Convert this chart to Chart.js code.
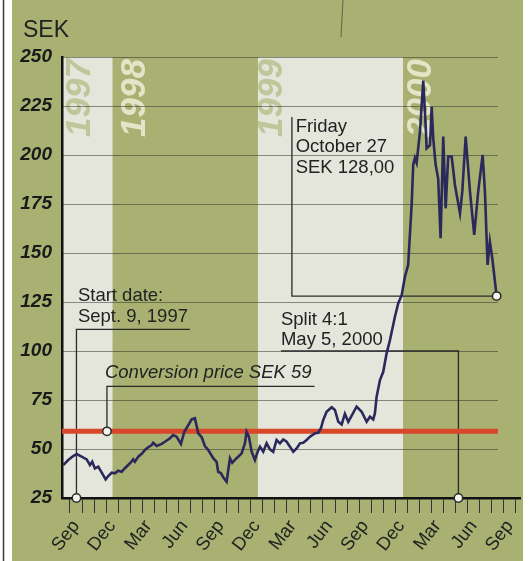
<!DOCTYPE html>
<html lang="en">
<head>
  <meta charset="UTF-8">
  <title>Share price SEK 1997-2000</title>
  <script src="https://cdn.jsdelivr.net/npm/chart.js"></script>
  <style>
    html, body { margin: 0; padding: 0; background: #fff; }
    canvas { display: block; }
  </style>
</head>
<body>
  <canvas id="grafico" width="531" height="561"></canvas>

  <script>
    // x is counted in months from the Sep 1997 tick of the axis
    const xTickLabels = ['Sep','','','Dec','','','Mar','','','Jun','','',
                         'Sep','','','Dec','','','Mar','','','Jun','','',
                         'Sep','','','Dec','','','Mar','','','Jun','','',
                         'Sep',''];
    const monthTicks = xTickLabels.map((_, i) => i);
    const yTicks = [25, 50, 75, 100, 125, 150, 175, 200, 225, 250];

    const years = ['1997', '1998', '1999', '2000'];
    const yearStarts = [-0.66, 3.55, 15.6, 27.65];
    const yearLabelAt = [0.83, 5.39, 16.76, 29.2];

    const priceMonths = [
      -0.56, -0.14, 0.27, 0.56, 0.97, 1.39, 1.66, 1.85, 2.07, 2.35, 2.76, 2.96, 3.18, 3.46, 3.73,
      4.01, 4.29, 4.56, 4.98, 5.25, 5.39, 5.67, 6.00, 6.22, 6.50, 6.78, 6.91, 7.20, 7.61, 7.88,
      8.30, 8.57, 8.85, 9.21, 9.49, 9.82, 10.10, 10.37, 10.65, 10.93, 11.20, 11.48, 11.89, 12.17,
      12.30, 12.53, 12.72, 13.00, 13.14, 13.28, 13.47, 13.83, 14.25, 14.52, 14.66, 14.85, 15.08,
      15.35, 15.58, 15.77, 16.04, 16.32, 16.60, 16.87, 17.15, 17.43, 17.70, 17.98, 18.26, 18.53,
      18.81, 19.09, 19.36, 19.64, 19.92, 20.33, 20.61, 20.83, 21.02, 21.30, 21.72, 21.99, 22.27,
      22.55, 22.82, 23.10, 23.79, 24.21, 24.62, 24.90, 25.17, 25.31, 25.45, 25.73, 26.00, 26.28,
      26.56, 26.97, 27.24, 27.53, 27.80, 28.07, 28.36, 28.49, 28.63, 28.77, 29.05, 29.32, 29.52,
      29.60, 29.88, 30.02, 30.15, 30.35, 30.56, 30.76, 30.98, 31.18, 31.39, 31.68, 31.95, 32.37,
      32.56, 32.84, 33.20, 33.55, 33.88, 34.25, 34.44, 34.66, 34.85, 35.05, 35.41
    ];
    const priceValues = [
      41.8, 44.4, 46.4, 47.4, 46.1, 44.7, 41.8, 43.5, 40.1, 41.0, 36.7, 34.5, 36.2, 37.9, 37.6,
      38.9, 38.4, 40.2, 42.7, 44.7, 43.5, 46.1, 47.8, 49.5, 50.9, 52.0, 53.2, 51.5, 52.6, 53.7,
      55.5, 57.1, 56.3, 52.6, 58.8, 62.2, 65.1, 65.7, 58.0, 56.0, 51.5, 49.5, 45.3, 43.5,
      38.4, 37.6, 35.6, 33.3, 39.3, 45.3, 43.0, 45.3, 47.8, 52.9, 58.8, 56.3, 48.6,
      44.4, 48.6, 51.2, 48.6, 52.9, 49.8, 48.6, 54.6, 52.9, 54.9, 53.7, 51.2, 48.6,
      50.3, 52.9, 53.2, 54.6, 56.3, 58.0, 58.3, 60.6, 64.8, 69.0, 71.3, 69.9, 63.9,
      62.5, 68.0, 63.9, 71.6, 69.0, 63.9, 66.5, 65.1, 68.2, 76.7, 85.2, 89.4, 98.8,
      105.6, 117.5, 124.3, 128.5, 137.9, 144, 175, 195, 198.5, 196, 212, 238, 215,
      203.4, 205, 224.6, 208.5, 195, 188, 157.5, 209.4, 172.8, 199.2, 199.2, 184.7, 170.3,
      181.3, 209.4, 181.3, 159.2, 181.3, 200, 181.3, 143.9, 155.8, 147.3, 128
    ];

    const conversionPrice = 59;
    const gridEnd = 35.52;

    // callouts: dot -> corner -> end, text starts at textAt (first baseline)
    const callouts = [
      { lines: ['Start date:', 'Sept. 9, 1997'], dot: [0.54, 25], corner: [0.54, 111], end: [9.96, 111], textAt: [0.66, 125.5] },
      { lines: ['Conversion price SEK 59'], italic: true, dot: [3.07, 59], corner: [3.07, 82], end: [20.3, 82], textAt: [2.9, 86.2] },
      { lines: ['Split 4:1', 'May 5, 2000'], dot: [32.24, 25], corner: [32.24, 100], end: [17.51, 100], textAt: [17.51, 113.3] },
      { lines: ['Friday', 'October 27', 'SEK 128,00'], dot: [35.41, 128], corner: [18.42, 128], end: [18.42, 219.4], textAt: [18.73, 211.9] }
    ];

    const verde = '#a8b171';
    const claro = '#e4e6dc';
    const tinta = '#222';

    const fundo = {
      id: 'fundo',
      beforeDraw(chart) {
        const { ctx, chartArea: a, scales: { x, y } } = chart;
        ctx.save();
        ctx.fillStyle = '#fff';
        ctx.fillRect(0, 0, chart.width, chart.height);
        ctx.fillStyle = verde;
        ctx.fillRect(12, 0, 511, chart.height);
        ctx.strokeStyle = '#3a3a3a';
        ctx.lineWidth = 1.5;
        ctx.beginPath(); ctx.moveTo(3.5, 0); ctx.lineTo(3.5, chart.height); ctx.stroke();
        ctx.strokeStyle = 'rgba(50,50,40,0.6)';
        ctx.lineWidth = 1;
        ctx.beginPath(); ctx.moveTo(343, 0); ctx.lineTo(341, 37); ctx.stroke();

        // year bands
        years.forEach((yr, i) => {
          const x0 = x.getPixelForValue(yearStarts[i]);
          const x1 = i + 1 < years.length ? x.getPixelForValue(yearStarts[i + 1]) : a.right;
          ctx.fillStyle = i % 2 === 0 ? claro : verde;
          ctx.fillRect(x0, a.top, x1 - x0, a.bottom - a.top);
        });
        years.forEach((yr, i) => {
          ctx.save();
          ctx.translate(x.getPixelForValue(yearLabelAt[i]), a.top + 80);
          ctx.rotate(-Math.PI / 2);
          ctx.font = 'italic bold 35px "Liberation Sans"';
          ctx.textAlign = 'left';
          ctx.textBaseline = 'middle';
          ctx.fillStyle = i % 2 === 0 ? 'rgba(160,172,100,0.55)' : 'rgba(236,238,214,0.85)';
          ctx.fillText(yr, 0, 0);
          ctx.restore();
        });

        // grid lines
        ctx.strokeStyle = 'rgba(55,55,45,0.55)';
        ctx.lineWidth = 1;
        const xe = x.getPixelForValue(gridEnd);
        yTicks.slice(1).forEach(v => {
          const py = Math.round(y.getPixelForValue(v)) + 0.5;
          ctx.beginPath(); ctx.moveTo(a.left, py); ctx.lineTo(xe, py); ctx.stroke();
        });

        ctx.fillStyle = tinta;
        ctx.font = '23px "Liberation Sans"';
        ctx.textAlign = 'left';
        ctx.textBaseline = 'alphabetic';
        ctx.fillText('SEK', 23, 37);
        ctx.restore();
      },
      beforeDatasetsDraw(chart) {
        const { ctx, scales: { x, y } } = chart;
        ctx.save();
        ctx.strokeStyle = '#2a2a2a';
        ctx.lineWidth = 1.3;
        callouts.forEach(c => {
          ctx.beginPath();
          ctx.moveTo(x.getPixelForValue(c.dot[0]), y.getPixelForValue(c.dot[1]));
          ctx.lineTo(x.getPixelForValue(c.corner[0]), y.getPixelForValue(c.corner[1]));
          ctx.lineTo(x.getPixelForValue(c.end[0]), y.getPixelForValue(c.end[1]));
          ctx.stroke();
          ctx.fillStyle = tinta;
          ctx.font = (c.italic ? 'italic ' : '') + '18.5px "Liberation Sans"';
          ctx.textAlign = 'left';
          ctx.textBaseline = 'alphabetic';
          const tx = x.getPixelForValue(c.textAt[0]);
          const ty = y.getPixelForValue(c.textAt[1]);
          c.lines.forEach((t, i) => ctx.fillText(t, tx, ty + i * 20.5));
        });
        ctx.restore();
      },
      afterDatasetsDraw(chart) {
        const { ctx, scales: { x, y } } = chart;
        ctx.save();
        ctx.fillStyle = '#f5f5ee';
        ctx.strokeStyle = '#2a2a2a';
        ctx.lineWidth = 1.5;
        callouts.forEach(c => {
          ctx.beginPath();
          ctx.arc(x.getPixelForValue(c.dot[0]), y.getPixelForValue(c.dot[1]), 4.2, 0, Math.PI * 2);
          ctx.fill();
          ctx.stroke();
        });
        ctx.restore();
      }
    };

    new Chart(document.getElementById('grafico').getContext('2d'), {
      type: 'line',
      data: {
        datasets: [
          {
            label: 'SEK',
            data: priceMonths.map((m, i) => ({ x: m, y: priceValues[i] })),
            borderColor: '#2b285c',
            borderWidth: 2.6,
            pointRadius: 0,
            tension: 0
          },
          {
            label: 'Conversion price',
            data: [{ x: -0.66, y: conversionPrice }, { x: gridEnd, y: conversionPrice }],
            borderColor: '#d8472a',
            borderWidth: 5,
            pointRadius: 0
          }
        ]
      },
      options: {
        responsive: false,
        animation: false,
        devicePixelRatio: 1,
        layout: { padding: { top: 57, right: 11, bottom: 0, left: 0 } },
        plugins: { legend: { display: false }, tooltip: { enabled: false } },
        scales: {
          x: {
            type: 'linear',
            min: -0.66,
            max: 37.35,
            afterBuildTicks: s => { s.ticks = monthTicks.map(v => ({ value: v })); },
            afterFit: s => { s.height = 63; s.paddingLeft = 0; s.paddingRight = 0; },
            grid: { drawOnChartArea: false, drawTicks: true, tickLength: 15, color: '#333', lineWidth: 1 },
            border: { color: '#111', width: 2.5 },
            ticks: {
              autoSkip: false,
              maxRotation: 52,
              minRotation: 52,
              labelOffset: 6,
              padding: 3,
              color: tinta,
              font: { family: 'Liberation Sans', size: 18.5 },
              callback: (v, i) => xTickLabels[i]
            }
          },
          y: {
            min: 25,
            max: 250,
            afterBuildTicks: s => { s.ticks = yTicks.map(v => ({ value: v })); },
            afterFit: s => { s.width = 62; s.paddingTop = 0; s.paddingBottom = 0; },
            grid: { display: false, drawTicks: false },
            border: { color: '#111', width: 2.5 },
            ticks: {
              padding: 10,
              color: '#1a1a1a',
              font: { family: 'Liberation Sans', size: 19, style: 'italic', weight: 'bold' }
            }
          }
        }
      },
      plugins: [fundo]
    });
  </script>
</body>
</html>
